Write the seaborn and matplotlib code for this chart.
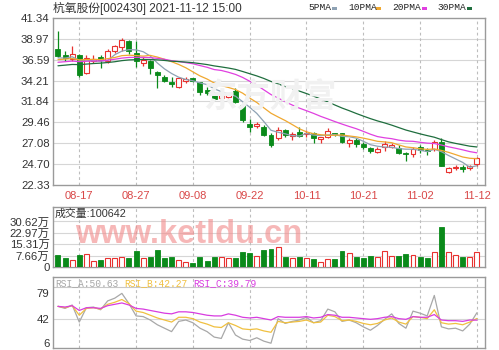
import numpy as np
import pandas as pd
import matplotlib
matplotlib.use("Agg")
import matplotlib.pyplot as plt
from matplotlib.patches import Rectangle
import seaborn as sns

# ---------------- data ----------------
title_text = "杭氧股份[002430] 2021-11-12 15:00"
date_labels = ["08-17", "08-27", "09-08", "09-22", "10-11", "10-21", "11-02", "11-12"]
date_pos = [3, 11, 19, 27, 35, 43, 51, 59]
price_ticks = [41.34, 38.97, 36.59, 34.21, 31.84, 29.46, 27.08, 24.70, 22.33]
vol_ticks = [0, 7.66, 15.31, 22.97, 30.62]
vol_tick_labels = ["0", "7.66万", "15.31万", "22.97万", "30.62万"]
rsi_ticks = [6, 42, 79]
vol_label = "成交量:100642"
rsi_names = ["RSI_A", "RSI_B", "RSI_C"]
rsi_last = ["50.63", "42.27", "39.79"]
ma_names = ["5PMA", "10PMA", "20PMA", "30PMA"]
ma_windows = [5, 10, 20, 30]

opens = [37.81, 37.09, 36.71, 37.09, 35.08, 36.48, 36.87, 36.41, 37.62, 38.07,
         38.76, 37.36, 36.22, 36.48, 35.19, 34.66, 34.09, 33.52, 34.20, 34.48,
         34.02, 33.14, 32.84, 32.20, 32.31, 33.07, 31.44, 29.27, 29.05, 28.97,
         28.02, 27.65, 28.59, 27.91, 28.40, 28.14, 28.21, 27.53, 27.83, 28.29,
         28.21, 27.08, 27.45, 26.96, 26.51, 26.09, 26.62, 26.62, 26.51, 26.01,
         25.86, 26.62, 26.31, 26.39, 27.26, 23.84, 24.23, 24.34, 24.23, 24.69]
closes = [37.05, 36.79, 37.24, 34.82, 36.79, 36.71, 36.56, 37.62, 38.12, 38.84,
          37.55, 36.41, 36.59, 35.65, 34.89, 34.20, 33.79, 34.48, 34.36, 34.17,
          32.95, 32.84, 32.09, 32.77, 32.69, 31.81, 29.73, 28.90, 29.27, 28.02,
          26.88, 28.59, 28.02, 28.14, 27.94, 28.29, 27.65, 27.76, 28.51, 28.14,
          27.26, 27.45, 26.99, 26.69, 26.20, 26.39, 26.96, 26.88, 25.94, 25.86,
          26.39, 26.31, 26.17, 27.26, 24.49, 24.23, 24.34, 24.19, 24.49, 25.37]
highs = [39.83, 37.60, 38.12, 37.24, 37.13, 37.09, 37.13, 37.85, 38.30, 39.06,
         38.87, 38.69, 36.87, 36.59, 35.27, 34.85, 34.66, 34.66, 34.66, 34.51,
         34.09, 33.45, 32.95, 32.92, 32.80, 33.34, 31.66, 29.81, 29.54, 29.16,
         28.21, 28.97, 28.67, 28.40, 28.97, 28.59, 28.40, 27.83, 28.78, 28.29,
         28.29, 27.65, 27.65, 27.26, 26.69, 26.62, 27.37, 27.11, 26.88, 26.12,
         26.62, 26.88, 26.51, 27.45, 27.65, 24.41, 24.61, 24.61, 24.61, 25.55]
lows = [36.90, 36.45, 36.48, 34.63, 34.97, 36.22, 35.65, 36.22, 37.39, 37.58,
        37.24, 35.73, 35.88, 34.97, 33.37, 34.06, 33.45, 33.37, 33.91, 34.06,
        32.57, 32.57, 32.01, 32.01, 32.24, 31.66, 29.54, 28.40, 28.82, 27.91,
        26.69, 27.45, 27.83, 27.45, 27.79, 27.83, 27.15, 27.08, 27.65, 27.91,
        27.08, 26.69, 26.62, 26.39, 25.94, 25.94, 26.20, 26.51, 25.83, 25.10,
        25.55, 26.01, 25.75, 26.23, 24.49, 23.66, 24.04, 23.84, 24.04, 24.49]
volumes = [8.1, 5.9, 4.7, 8.1, 8.8, 4.3, 4.7, 5.9, 5.9, 6.6,
           5.9, 11.0, 5.9, 6.6, 11.5, 5.9, 6.6, 4.7, 3.6, 2.9,
           6.6, 4.3, 6.6, 6.6, 5.9, 5.9, 9.9, 9.3, 7.4, 11.5,
           12.0, 13.7, 6.6, 5.9, 6.6, 5.9, 5.2, 3.6, 5.2, 5.2,
           10.8, 9.3, 6.6, 5.9, 7.4, 6.6, 10.8, 7.4, 7.4, 8.8,
           8.1, 7.0, 5.9, 10.3, 27.0, 10.3, 8.1, 6.6, 6.6, 10.06]
# closes of the sessions before the window (moving-average warm-up)
pre_closes = [34.6, 34.9, 35.3, 35.0, 34.8, 35.2, 35.6, 35.4, 35.1, 35.1,
              35.5, 35.8, 36.2, 35.9, 36.1, 36.4, 35.8, 36.0, 36.3, 36.0,
              36.2, 36.6, 36.3, 36.5, 36.4, 36.9, 36.5, 36.8, 36.75]
rsi_a = [60, 57, 62, 37, 58, 59, 55, 68, 72, 79,
         64, 46, 45, 40, 33, 28, 23, 38, 40, 36,
         28, 23, 15, 13, 36, 18, 12, 10, 14, 9,
         6, 42, 35, 38, 40, 44, 36, 39, 56, 52,
         38, 40, 36, 30, 25, 32, 41, 49, 35, 28,
         53, 50, 46, 76, 30, 27, 28, 24, 34, 50.63]
rsi_b = [60, 58, 61, 47, 57, 58, 56, 63, 66, 70,
         64, 53, 51, 47, 43, 40, 37, 44, 44, 42,
         37, 34, 30, 29, 36, 32, 27, 26, 27, 24,
         22, 38, 36, 37, 38, 40, 36, 37, 47, 45,
         39, 40, 38, 35, 33, 35, 40, 43, 37, 34,
         45, 44, 42, 55, 36, 34, 35, 33, 37, 42.27]
rsi_c = [60, 59, 61, 54, 58, 58, 57, 61, 63, 65,
         62, 57, 56, 54, 52, 50, 49, 52, 52, 51,
         49, 47, 46, 46, 49, 47, 44, 43, 44, 42,
         40, 45, 44, 44, 44, 45, 43, 44, 48, 47,
         44, 44, 43, 42, 41, 42, 44, 45, 42, 41,
         45, 44, 44, 48, 40, 39, 39, 38, 40, 39.79]

# ---------------- derived series ----------------
n = len(closes)
x = np.arange(n)
o = np.array(opens); c = np.array(closes); h = np.array(highs); l = np.array(lows)
v = np.array(volumes)
up = c >= o
full_close = pd.Series(pre_closes + closes)
npre = len(pre_closes)

ma_df = pd.DataFrame({"x": x})
for name, w in zip(ma_names, ma_windows):
    ma_df[name] = full_close.rolling(w, min_periods=1).mean().values[npre:]

rsi_df = pd.DataFrame({"x": x, "RSI_A": rsi_a, "RSI_B": rsi_b, "RSI_C": rsi_c})

# ---------------- style ----------------
sns.set_style("white")
plt.rcParams["font.family"] = ["Liberation Sans", "Noto Sans CJK SC", "DejaVu Sans"]

RED = "#e8312f"
GREEN = "#0a8a1a"
GRID = "#d6d6d6"
VGRID = "#bdbdbd"
SPINE = "#9a9a9a"
TXT = "#333333"
ma_colors = ["#8ea2b4", "#f0a830", "#e040e0", "#1f6e3e"]
rsi_colors = ["#a8a8a8", "#f0c040", "#d83ce0"]

W, H = 499, 350
fig = plt.figure(figsize=(W / 100, H / 100), dpi=100)


def px_axes(x0, y0, x1, y1):
    return fig.add_axes([x0 / W, 1 - y1 / H, (x1 - x0) / W, (y1 - y0) / H])


XL = (-0.7, 60.14)

# ---------------- main price panel ----------------
ax = px_axes(53, 18, 485, 185)
ax.set_xlim(*XL)
ax.set_ylim(22.33, 41.34)
for t in price_ticks[1:-1]:
    ax.axhline(t, color=GRID, lw=0.8, zorder=0)
for p in date_pos:
    ax.axvline(p, color=VGRID, lw=0.8, ls=(0, (2.5, 2.5)), zorder=0)

fig.text(270 / W, 1 - 98 / H, "东方财富", fontsize=24, color="#f1f1f1",
         ha="center", va="center", family=["Noto Sans CJK SC"], zorder=0,
         fontweight="bold")

cols = np.where(up, RED, GREEN)
ax.vlines(x, l, h, colors=cols, lw=0.9, zorder=3)
bb = np.minimum(o, c)
bh = np.maximum(np.abs(c - o), 0.05)
ax.bar(x[up], bh[up], bottom=bb[up], width=0.7, facecolor="white",
       edgecolor=RED, lw=0.8, zorder=4)
ax.bar(x[~up], bh[~up], bottom=bb[~up], width=0.7, facecolor=GREEN,
       edgecolor=GREEN, lw=0.6, zorder=4)

for name, col in zip(ma_names, ma_colors):
    sns.lineplot(data=ma_df, x="x", y=name, color=col, lw=0.9, ax=ax,
                 legend=False, zorder=5)

ax.set_yticks(price_ticks)
ax.set_yticklabels([f"{t:.2f}" for t in price_ticks])
ax.set_xticks([])
ax.set_xlabel(""); ax.set_ylabel("")
ax.tick_params(axis="y", length=0, pad=2.5, labelsize=8.2, labelcolor=TXT)
for s in ax.spines.values():
    s.set_color(SPINE); s.set_linewidth(1)

for lab, p in zip(date_labels, date_pos):
    ax.text(p, -0.066, lab, transform=ax.get_xaxis_transform(), ha="center",
            va="center", fontsize=8, color="#d94848")

# title and legend
fig.text(53 / W, 1 - 8 / H, title_text, fontsize=8.5, color=TXT, ha="left", va="center")
leg_x = [308, 348, 392, 437]
dash_x = [332, 376, 422, 467]
for name, col, lx, dx in zip(ma_names, ma_colors, leg_x, dash_x):
    fig.text(lx / W, 1 - 8 / H, name, fontsize=6.8, color="#222222", ha="left",
             va="center", family=["Liberation Mono"])
    fig.add_artist(Rectangle((dx / W, 1 - 9.5 / H), 4.5 / W, 3 / H,
                             transform=fig.transFigure, color=col, lw=0))

# ---------------- volume panel ----------------
axv = px_axes(53, 207, 485, 267)
axv.set_xlim(*XL)
axv.set_ylim(0, 40.3)
for t in vol_ticks[1:]:
    axv.axhline(t, color=GRID, lw=0.8, zorder=0)
for p in date_pos:
    axv.axvline(p, color=VGRID, lw=0.8, ls=(0, (2.5, 2.5)), zorder=0)
axv.bar(x[up], v[up], width=0.7, facecolor="white", edgecolor=RED, lw=0.8, zorder=3)
axv.bar(x[~up], v[~up], width=0.7, facecolor=GREEN, edgecolor=GREEN, lw=0.6, zorder=3)
axv.set_yticks(vol_ticks)
axv.set_yticklabels(vol_tick_labels)
axv.set_xticks([])
axv.tick_params(axis="y", length=0, pad=2.5, labelsize=8.2, labelcolor=TXT)
for s in axv.spines.values():
    s.set_color(SPINE); s.set_linewidth(1)
fig.text(55 / W, 1 - 214 / H, vol_label, fontsize=7.8, color=TXT, ha="left", va="center")
fig.text(75 / W, 1 - 243 / H, "www.ketldu.cn", fontsize=23.5, fontweight="bold",
         color=(0.95, 0.55, 0.55), alpha=0.62, ha="left", va="baseline", zorder=10)

# ---------------- RSI panel ----------------
axr = px_axes(53, 277, 485, 348)
axr.set_xlim(*XL)
axr.set_ylim(-1, 103)
axr.axhline(42, color=GRID, lw=0.8, zorder=0)
axr.axhline(88, color="#c8c8c8", lw=0.8, zorder=0)
for p in date_pos:
    axr.axvline(p, color=VGRID, lw=0.8, ls=(0, (2.5, 2.5)), zorder=0)
for name, col in zip(rsi_names, rsi_colors):
    sns.lineplot(data=rsi_df, x="x", y=name, color=col, lw=0.9, ax=axr,
                 legend=False, zorder=3)
axr.set_yticks(rsi_ticks)
axr.set_yticklabels([str(t) for t in rsi_ticks])
axr.set_xticks([])
axr.set_xlabel(""); axr.set_ylabel("")
axr.tick_params(axis="y", length=0, pad=2.5, labelsize=8.2, labelcolor=TXT)
for s in axr.spines.values():
    s.set_color(SPINE); s.set_linewidth(1)
rsi_lx = [55, 124, 193]
for name, val, col, lx in zip(rsi_names, rsi_last, rsi_colors, rsi_lx):
    fig.text(lx / W, 1 - 283 / H, f"{name}:{val}", fontsize=6.9, color=col,
             ha="left", va="center", family=["Liberation Mono"])

fig.savefig("out.png", dpi=100)
